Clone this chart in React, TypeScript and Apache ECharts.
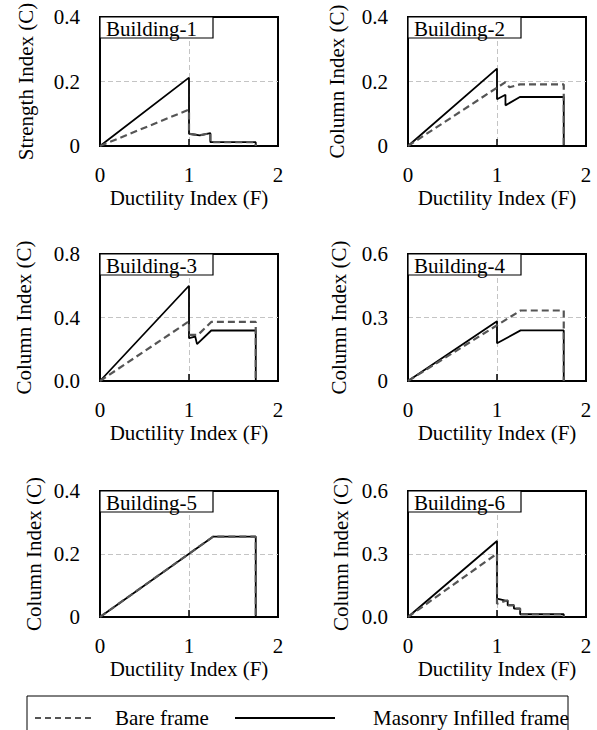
import React, { useEffect, useRef } from 'react';
import * as echarts from 'echarts';

const FONT = '"Liberation Serif", "Times New Roman", Times, serif';

// ---- data ----
const buildings = ['Building-1', 'Building-2', 'Building-3', 'Building-4', 'Building-5', 'Building-6'];
const yTitles = ['Strength Index (C)', 'Column Index (C)', 'Column Index (C)', 'Column Index (C)', 'Column Index (C)', 'Column Index (C)'];
const xTitle = 'Ductility Index (F)';
const xTickLabels = ['0', '1', '2'];
const yMax = [0.4, 0.4, 0.8, 0.6, 0.4, 0.6];
const yTickLabels = [
  ['0', '0.2', '0.4'],
  ['0', '0.2', '0.4'],
  ['0.0', '0.4', '0.8'],
  ['0', '0.3', '0.6'],
  ['0', '0.2', '0.4'],
  ['0.0', '0.3', '0.6'],
];
const seriesNames = ['Bare frame', 'Masonry Infilled frame'];

const bare1 = [[0, 0], [1, 0.113], [1, 0.038], [1.12, 0.033], [1.24, 0.04], [1.24, 0.012], [1.75, 0.012], [1.75, 0]];
const masonry1 = [[0, 0], [1, 0.212], [1, 0.038], [1.12, 0.033], [1.24, 0.04], [1.24, 0.012], [1.75, 0.012], [1.75, 0]];
const bare2 = [[0, 0], [1.095, 0.198], [1.14, 0.182], [1.257, 0.191], [1.75, 0.191], [1.75, 0]];
const masonry2 = [[0, 0], [1, 0.24], [1, 0.145], [1.095, 0.159], [1.095, 0.126], [1.257, 0.152], [1.75, 0.152], [1.75, 0]];
const bare3 = [[0, 0], [1, 0.376], [1, 0.29], [1.1, 0.29], [1.25, 0.372], [1.75, 0.372], [1.75, 0]];
const masonry3 = [[0, 0], [1, 0.6], [1, 0.27], [1.07, 0.28], [1.09, 0.232], [1.25, 0.318], [1.75, 0.318], [1.75, 0]];
const bare4 = [[0, 0], [1.265, 0.333], [1.75, 0.333], [1.75, 0]];
const masonry4 = [[0, 0], [1, 0.282], [1, 0.178], [1.265, 0.239], [1.75, 0.239], [1.75, 0]];
const bare5 = [[0, 0], [1.27, 0.255], [1.75, 0.255], [1.75, 0]];
const masonry5 = [[0, 0], [1.27, 0.255], [1.75, 0.255], [1.75, 0]];
const bare6 = [[0, 0], [1, 0.302], [1, 0.063], [1.12, 0.08], [1.12, 0.056], [1.19, 0.056], [1.19, 0.04], [1.26, 0.04], [1.26, 0.013], [1.75, 0.013], [1.75, 0]];
const masonry6 = [[0, 0], [1, 0.362], [1, 0.087], [1.12, 0.076], [1.12, 0.056], [1.19, 0.056], [1.19, 0.04], [1.26, 0.04], [1.26, 0.013], [1.75, 0.013], [1.75, 0]];

const bareData = [bare1, bare2, bare3, bare4, bare5, bare6];
const masonryData = [masonry1, masonry2, masonry3, masonry4, masonry5, masonry6];

// ---- layout ----
const colLeft = [100, 408];
const rowTop = [17, 254, 491];
const rowHeight = [129, 127, 126];
const gridWidth = 178;
const yNameGaps = [64, 61, 66, 59, 56, 57];

const BARE_STYLE = { color: '#555', width: 2.2, dash: [7, 4] };
const MASONRY_STYLE = { color: '#000', width: 1.8 };

function buildOption() {
  const grid: any[] = [];
  const xAxis: any[] = [];
  const yAxis: any[] = [];
  const series: any[] = [];
  const graphic: any[] = [];

  for (let i = 0; i < 6; i++) {
    const col = i % 2;
    const row = Math.floor(i / 2);
    const left = colLeft[col];
    const top = rowTop[row];
    grid.push({
      left,
      top,
      width: gridWidth,
      height: rowHeight[row],
      show: true,
      borderColor: '#000',
      borderWidth: 2,
      backgroundColor: 'transparent',
    });
    xAxis.push({
      type: 'value',
      gridIndex: i,
      min: 0,
      max: 2,
      interval: 1,
      name: xTitle,
      nameLocation: 'middle',
      nameGap: 41,
      nameTextStyle: { fontFamily: FONT, fontSize: 21, color: '#000' },
      axisLine: { show: true, lineStyle: { color: '#000', width: 2 } },
      axisTick: { show: true, inside: true, length: 7, lineStyle: { color: '#000', width: 1.5 } },
      axisLabel: {
        margin: 18,
        fontFamily: FONT,
        fontSize: 21,
        color: '#000',
        formatter: (v: number) => xTickLabels[Math.round(v)],
      },
      splitLine: {
        show: true,
        lineStyle: { color: ['rgba(0,0,0,0)', '#c4c4c4', 'rgba(0,0,0,0)'], type: [5, 3], width: 1 },
      },
    });
    const interval = yMax[i] / 2;
    const labels = yTickLabels[i];
    yAxis.push({
      type: 'value',
      gridIndex: i,
      min: 0,
      max: yMax[i],
      interval,
      name: yTitles[i],
      nameLocation: 'middle',
      nameGap: yNameGaps[i],
      nameTextStyle: { fontFamily: FONT, fontSize: 21, color: '#000' },
      axisLine: { show: true, lineStyle: { color: '#000', width: 2 } },
      axisTick: { show: false },
      axisLabel: {
        margin: 20,
        fontFamily: FONT,
        fontSize: 21,
        color: '#000',
        formatter: (v: number) => labels[Math.round(v / interval)],
      },
      splitLine: {
        show: true,
        lineStyle: { color: ['rgba(0,0,0,0)', '#c4c4c4', 'rgba(0,0,0,0)'], type: [5, 3], width: 1 },
      },
    });
    series.push({
      name: seriesNames[1],
      type: 'line',
      xAxisIndex: i,
      yAxisIndex: i,
      data: masonryData[i],
      symbol: 'none',
      silent: true,
      z: 3,
      itemStyle: { color: MASONRY_STYLE.color },
      lineStyle: { color: MASONRY_STYLE.color, width: MASONRY_STYLE.width, type: 'solid' },
    });
    series.push({
      name: seriesNames[0],
      type: 'line',
      xAxisIndex: i,
      yAxisIndex: i,
      data: bareData[i],
      symbol: 'none',
      silent: true,
      z: 4,
      itemStyle: { color: BARE_STYLE.color },
      lineStyle: { color: BARE_STYLE.color, width: BARE_STYLE.width, type: BARE_STYLE.dash },
    });
    graphic.push({
      type: 'rect',
      z: 100,
      shape: { x: left, y: top, width: 113, height: 21 },
      style: { fill: '#fff', stroke: '#000', lineWidth: 1.2 },
    });
    graphic.push({
      type: 'text',
      z: 101,
      x: left + 6,
      y: top + 12,
      style: {
        text: buildings[i],
        fontFamily: FONT,
        fontSize: 21,
        fill: '#000',
        verticalAlign: 'middle',
        align: 'left',
      },
    });
  }

  // legend box and entries
  graphic.push({
    type: 'rect',
    z: 100,
    shape: { x: 27, y: 696, width: 541, height: 60 },
    style: { fill: 'none', stroke: '#000', lineWidth: 1 },
  });
  graphic.push({
    type: 'line',
    z: 101,
    shape: { x1: 35, y1: 718, x2: 95, y2: 718 },
    style: { stroke: BARE_STYLE.color, lineWidth: 2, lineDash: [6, 4] },
  });
  graphic.push({
    type: 'text',
    z: 101,
    x: 115,
    y: 718,
    style: { text: seriesNames[0], fontFamily: FONT, fontSize: 21, fill: '#000', verticalAlign: 'middle', align: 'left' },
  });
  graphic.push({
    type: 'line',
    z: 101,
    shape: { x1: 235, y1: 718, x2: 335, y2: 718 },
    style: { stroke: MASONRY_STYLE.color, lineWidth: 1.8 },
  });
  graphic.push({
    type: 'text',
    z: 101,
    x: 373,
    y: 718,
    style: { text: seriesNames[1], fontFamily: FONT, fontSize: 21, fill: '#000', verticalAlign: 'middle', align: 'left' },
  });

  return {
    animation: false,
    backgroundColor: '#fff',
    grid,
    xAxis,
    yAxis,
    series,
    graphic,
  };
}

export default function App() {
  const ref = useRef<HTMLDivElement>(null);
  useEffect(() => {
    if (!ref.current) return;
    const chart = echarts.init(ref.current, null, { renderer: 'svg' });
    chart.setOption(buildOption() as any);
    return () => chart.dispose();
  }, []);
  return (
    <div
      ref={ref}
      style={{ position: 'fixed', left: 0, top: 0, width: 597, height: 730, background: '#fff' }}
    />
  );
}
